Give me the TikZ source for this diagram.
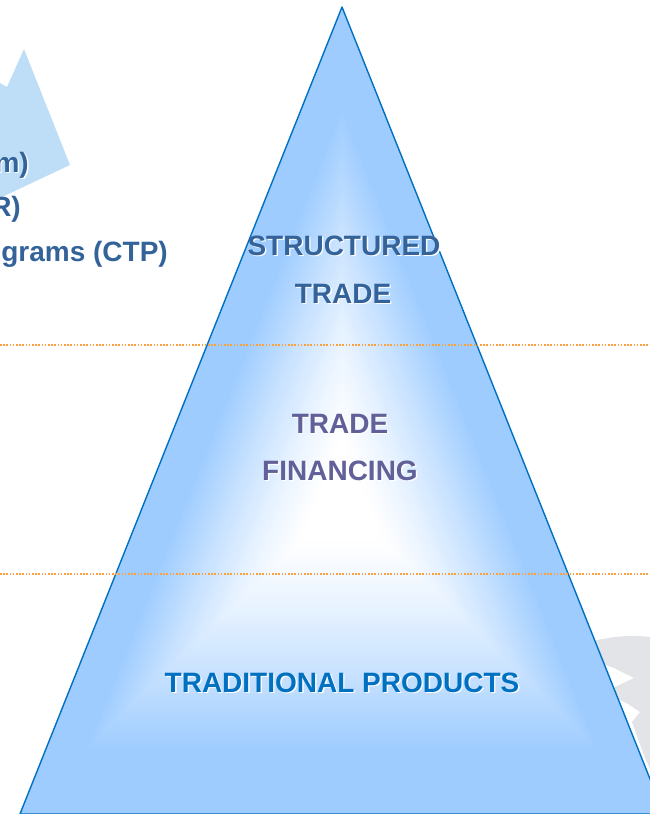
\documentclass[tikz,border=0pt]{standalone}
\usepackage{fontspec}
\setmainfont{Liberation Sans}
\usetikzlibrary{calc}
\definecolor{tribl}{RGB}{158,204,255}
\definecolor{triedge}{RGB}{0,112,192}
\definecolor{steel}{RGB}{51,99,153}
\definecolor{purp}{RGB}{98,96,152}
\definecolor{tradblue}{RGB}{0,112,192}
\definecolor{leftbl}{RGB}{190,222,248}
\definecolor{swoosh}{RGB}{226,228,232}
\definecolor{dotor}{RGB}{250,160,60}
\tikzset{
  lbl/.style={font=\bfseries\fontsize{28}{31}\selectfont, inner sep=0pt, anchor=base},
  shadowtxt/.style={lbl, text=white},
  dotline/.style={dotor, line width=1.7pt, dash pattern=on 1.6pt off 1.6pt},
}
\newcommand{\shtext}[5]{%
  \node[shadowtxt, anchor=#4] at ($(#1)+(1.4,1.4)$) {#3};
  \node[lbl, text=#5, anchor=#4] (#2) at (#1) {#3};}
\begin{document}
\begin{tikzpicture}[x=1pt,y=-1pt]
\useasboundingbox (0,0) rectangle (650,814);
\clip (0,0) rectangle (650,814);
% left light blue shape
\fill[leftbl] (0,83) -- (7,87) -- (24,49) -- (70,165) -- (0,198) -- cycle;
% grey swoosh (behind triangle)
\fill[swoosh] (590,642) .. controls (612,636) and (635,634) .. (655,638) -- (655,780)
  -- (645,758) -- (632,722) -- (640,712) -- (628,704) -- (614,697) -- (604,692)
  -- (634,678) -- (614,668) -- (592,660) -- cycle;
% triangle with path gradient
\coordinate (A) at (342,7);
\coordinate (B) at (20,814);
\coordinate (D) at (664,814);
\coordinate (C) at (342,500);
\foreach \i in {0,...,69}{
  \pgfmathsetmacro\s{1-\i/70}
  \pgfmathsetmacro\q{max(0.001,min(1,(\s-0.12)/0.68))}
  \pgfmathtruncatemacro\p{100*(\q^1.25)}
  \fill[tribl!\p!white] ($(C)!\s!(A)$) -- ($(C)!\s!(B)$) -- ($(C)!\s!(D)$) -- cycle;
}
\draw[triedge, line width=1.4pt, line join=round] (A) -- (B) -- (D) -- cycle;
% dotted lines
\coordinate (l1a) at (0,345); \coordinate (l1b) at (650,345);
\coordinate (l2a) at (0,574); \coordinate (l2b) at (650,574);
\draw[dotline] (l1a) -- (l1b);
\draw[dotline] (l2a) -- (l2b);
% texts
\coordinate (p1) at (344,255);
\coordinate (p2) at (343,303);
\coordinate (p3) at (340,433);
\coordinate (p4) at (340,480);
\coordinate (p5) at (342,692);
\coordinate (q1) at (29,172);
\coordinate (q2) at (21,216);
\coordinate (q3) at (168,261);
\shtext{p1}{t1}{STRUCTURED}{base}{steel}
\shtext{p2}{t2}{TRADE}{base}{steel}
\shtext{p3}{t3}{TRADE}{base}{purp}
\shtext{p4}{t4}{FINANCING}{base}{purp}
\shtext{p5}{t5}{TRADITIONAL PRODUCTS}{base}{tradblue}
\shtext{q1}{u1}{m)}{base east}{steel}
\shtext{q2}{u2}{R)}{base east}{steel}
\shtext{q3}{u3}{grams (CTP)}{base east}{steel}
\end{tikzpicture}
\end{document}
